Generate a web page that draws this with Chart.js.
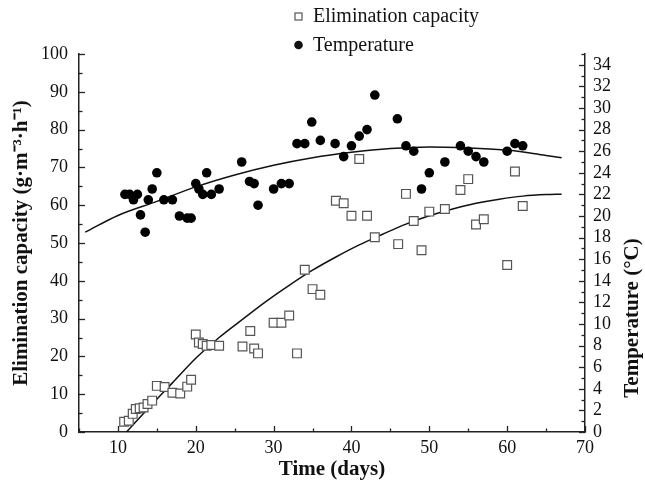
<!DOCTYPE html>
<html lang="en">
<head>
    <meta charset="UTF-8">
    <title>Elimination capacity and temperature</title>
    <script src="https://cdn.jsdelivr.net/npm/chart.js"></script>
    <style>
        body { margin: 0; background: #fff; }
        #wrap { width: 645px; height: 485px; position: relative; }
    </style>
</head>
<body>
    <div id="wrap"><canvas id="chart"></canvas></div>
    <script>
        // measured points (days)
        const ecDays = [10.8, 11.4, 11.9, 12.3, 12.8, 13.3, 13.8, 14.4, 15, 16, 17, 18, 18.9, 19.4, 20, 20.4, 20.9, 21.4, 22, 23, 26, 27, 27.5, 28, 30, 31, 32, 33, 34, 35, 36, 38, 39, 40, 41, 42, 43, 46, 47, 48, 49, 50, 52, 54, 55, 56, 57, 60, 61, 62];
        const ecValues = [2.7, 3.0, 4.8, 6.1, 6.3, 6.5, 7.4, 8.3, 12.2, 11.9, 10.4, 10.2, 12.0, 13.8, 25.8, 23.7, 23.3, 22.8, 23.0, 22.8, 22.6, 26.7, 22.1, 20.8, 28.9, 28.9, 30.8, 20.8, 42.9, 37.8, 36.3, 61.2, 60.5, 57.2, 72.2, 57.2, 51.5, 49.7, 63.0, 55.8, 48.1, 58.3, 59.0, 64.0, 66.9, 54.9, 56.3, 44.2, 68.9, 59.8];

        const tempDays = [10.9, 11.5, 12.0, 12.5, 12.9, 13.5, 13.9, 14.4, 15.0, 15.9, 17.0, 17.9, 18.9, 19.4, 20.0, 20.4, 20.9, 21.4, 22.0, 23.0, 25.9, 26.9, 27.5, 28.0, 30.0, 31.0, 32.0, 33.0, 34.0, 34.9, 36.0, 37.9, 39.0, 40.0, 41.0, 42.0, 43.0, 45.9, 47.0, 48.0, 49.0, 50.0, 52.0, 54.0, 55.0, 56.0, 57.0, 60.0, 61.0, 62.0];
        const tempValues = [22.0, 22.0, 21.5, 22.0, 20.1, 18.5, 21.5, 22.5, 24.0, 21.5, 21.5, 20.0, 19.8, 19.8, 23.0, 22.5, 22.0, 24.0, 22.0, 22.5, 25.0, 23.2, 23.0, 21.0, 22.5, 23.0, 23.0, 26.7, 26.7, 28.7, 27.0, 26.7, 25.5, 26.5, 27.4, 28.0, 31.2, 29.0, 26.5, 26.0, 22.5, 24.0, 25.0, 26.5, 26.0, 25.5, 25.0, 26.0, 26.7, 26.5];

        // fitted curves
        const ecFitDays = [11.1, 14, 17, 20, 23, 26, 29, 32, 35, 38, 41, 44, 47, 50, 53, 56, 59, 62, 65, 67];
        const ecFitValues = [0, 6.5, 13.0, 19.5, 25.0, 29.8, 34.5, 38.8, 42.8, 46.3, 49.5, 52.3, 55.0, 57.2, 59.0, 60.5, 61.6, 62.4, 62.8, 62.9];

        const tempFitDays = [5.8, 10, 15, 20, 25, 30, 35, 40, 45, 50, 55, 60, 65, 67];
        const tempFitValues = [18.5, 20.05, 21.35, 22.7, 23.8, 24.7, 25.4, 25.9, 26.25, 26.4, 26.3, 26.1, 25.6, 25.4];

        // axes
        const xMajor = [10, 20, 30, 40, 50, 60, 70];
        const xMinor = [5, 15, 25, 35, 45, 55, 65];
        const yMajor = [0, 10, 20, 30, 40, 50, 60, 70, 80, 90, 100];
        const yMinor = [5, 15, 25, 35, 45, 55, 65, 75, 85, 95];
        const y2Major = [0, 2, 4, 6, 8, 10, 12, 14, 16, 18, 20, 22, 24, 26, 28, 30, 32, 34];
        const y2Minor = [1, 3, 5, 7, 9, 11, 13, 15, 17, 19, 21, 23, 25, 27, 29, 31, 33, 35];

        const serif = 'Liberation Serif, Times New Roman, serif';

        function pts(xs, ys) {
            return xs.map((x, i) => ({ x: x, y: ys[i] }));
        }

        // inward tick marks, legend and right-hand title
        const extras = {
            id: 'extras',
            afterDraw(chart) {
                const { ctx, chartArea: a, scales } = chart;
                ctx.save();
                ctx.strokeStyle = '#222';
                ctx.lineWidth = 1.3;
                const marks = (scale, values, len) => values.forEach(v => {
                    const p = Math.round(scale.getPixelForValue(v)) + 0.5;
                    ctx.beginPath();
                    if (scale.id === 'x') {
                        ctx.moveTo(p, a.bottom); ctx.lineTo(p, a.bottom - len);
                    } else if (scale.id === 'y') {
                        ctx.moveTo(a.left, p); ctx.lineTo(a.left + len, p);
                    } else {
                        ctx.moveTo(a.right, p); ctx.lineTo(a.right - len, p);
                    }
                    ctx.stroke();
                });
                marks(scales.x, xMajor, 6);
                marks(scales.x, xMinor, 3.5);
                marks(scales.y, yMajor, 6);
                marks(scales.y, yMinor, 3.5);
                marks(scales.y2, y2Major, 6);
                marks(scales.y2, y2Minor, 3.5);

                // legend
                ctx.fillStyle = '#111';
                ctx.font = '20px ' + serif;
                ctx.textBaseline = 'middle';
                ctx.textAlign = 'left';
                ctx.lineWidth = 1.2;
                ctx.strokeStyle = '#555';
                ctx.strokeRect(295, 13, 7, 7);
                ctx.fillText(chart.data.datasets[0].label, 313, 17);
                ctx.beginPath();
                ctx.arc(298.5, 45, 4.3, 0, Math.PI * 2);
                ctx.fill();
                ctx.fillText(chart.data.datasets[1].label, 313, 46);

                // right axis title
                ctx.font = 'bold 21px ' + serif;
                ctx.textAlign = 'center';
                ctx.translate(633, 318);
                ctx.rotate(-Math.PI / 2);
                ctx.fillText('Temperature (°C)', 0, 0);
                ctx.restore();
            }
        };

        const ctx = document.getElementById('chart').getContext('2d');
        new Chart(ctx, {
            type: 'scatter',
            data: {
                datasets: [{
                    label: 'Elimination capacity',
                    data: pts(ecDays, ecValues),
                    yAxisID: 'y',
                    pointStyle: 'rect',
                    pointRadius: 6.2,
                    borderWidth: 1.2,
                    borderColor: '#555',
                    backgroundColor: '#fff'
                }, {
                    label: 'Temperature',
                    data: pts(tempDays, tempValues),
                    yAxisID: 'y2',
                    pointStyle: 'circle',
                    pointRadius: 4.8,
                    borderWidth: 0,
                    backgroundColor: '#000'
                }, {
                    label: 'EC fit',
                    data: pts(ecFitDays, ecFitValues),
                    yAxisID: 'y',
                    showLine: true,
                    pointRadius: 0,
                    borderColor: '#111',
                    borderWidth: 1.5,
                    cubicInterpolationMode: 'monotone'
                }, {
                    label: 'Temperature fit',
                    data: pts(tempFitDays, tempFitValues),
                    yAxisID: 'y2',
                    showLine: true,
                    pointRadius: 0,
                    borderColor: '#111',
                    borderWidth: 1.5,
                    cubicInterpolationMode: 'monotone'
                }]
            },
            options: {
                responsive: true,
                maintainAspectRatio: false,
                animation: false,
                layout: { padding: { top: 54, left: 0, right: 0, bottom: 0 } },
                plugins: {
                    legend: { display: false },
                    tooltip: { enabled: false }
                },
                scales: {
                    x: {
                        type: 'linear',
                        min: 5,
                        max: 70,
                        afterBuildTicks: s => { s.ticks = xMajor.map(v => ({ value: v })); },
                        afterFit: s => { s.height = 53; },
                        grid: { display: false, drawTicks: false },
                        border: { display: true, color: '#222', width: 1.5 },
                        ticks: { color: '#111', padding: 5, autoSkip: false, maxRotation: 0, font: { family: serif, size: 18 } },
                        title: {
                            display: true,
                            text: 'Time (days)',
                            color: '#111',
                            padding: { top: 0, bottom: 3 },
                            font: { family: serif, size: 21, weight: 'bold' }
                        }
                    },
                    y: {
                        position: 'left',
                        min: 0,
                        max: 100,
                        afterBuildTicks: s => { s.ticks = yMajor.map(v => ({ value: v })); },
                        afterFit: s => { s.width = 79; },
                        grid: { display: false, drawTicks: false },
                        border: { display: true, color: '#222', width: 1.5 },
                        ticks: { color: '#111', padding: 11, autoSkip: false, font: { family: serif, size: 18 } },
                        title: {
                            display: true,
                            text: 'Elimination capacity (g·m⁻³·h⁻¹)',
                            color: '#111',
                            padding: { top: 9, bottom: 0 },
                            font: { family: serif, size: 21, weight: 'bold' }
                        }
                    },
                    y2: {
                        position: 'right',
                        min: 0,
                        max: 35,
                        afterBuildTicks: s => { s.ticks = y2Major.map(v => ({ value: v })); },
                        afterFit: s => { s.width = 60; },
                        grid: { display: false, drawTicks: false },
                        border: { display: true, color: '#222', width: 1.5 },
                        ticks: { color: '#111', padding: 8, autoSkip: false, font: { family: serif, size: 18 } }
                    }
                }
            },
            plugins: [extras]
        });
    </script>
</body>
</html>
